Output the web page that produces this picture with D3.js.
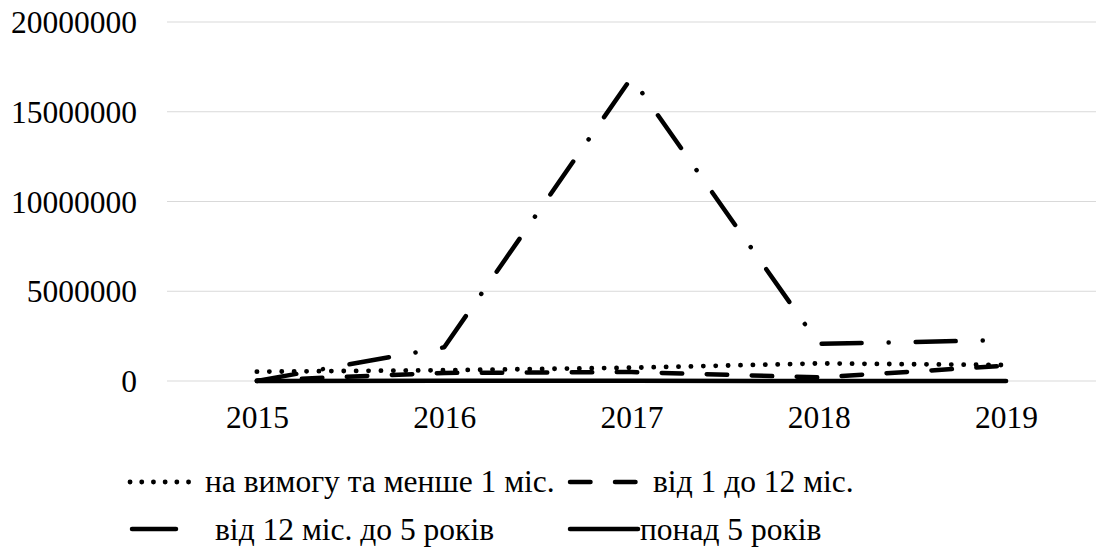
<!DOCTYPE html>
<html>
<head>
<meta charset="utf-8">
<script src="https://cdn.jsdelivr.net/npm/d3@7"></script>
<style>
  html, body { margin: 0; padding: 0; background: #fff; }
  svg { display: block; }
</style>
</head>
<body>
<svg id="chart" width="1096" height="549"></svg>
<script>
// ---- data ----
const years = ["2015", "2016", "2017", "2018", "2019"];
const onDemand = [520000, 600000, 740000, 980000, 890000];        // на вимогу та менше 1 міс.
const m1to12 = [30000, 450000, 500000, 200000, 850000];           // від 1 до 12 міс.
const m12to5y = [0, 1880000, 16900000, 2070000, 2280000];         // від 12 міс. до 5 років
const over5y = [0, 10000, 10000, 5000, 5000];                     // понад 5 років
const yTicks = [0, 5000000, 10000000, 15000000, 20000000];
const seriesNames = ["на вимогу та менше 1 міс.", "від 1 до 12 міс.", "від 12 міс. до 5 років", "понад 5 років"];

const FONT = "'Liberation Serif', serif";
const FS = 31.5;
const styles = [
  { dash: "0.1,12.3", width: 4.8 },
  { dash: "20.5,24.5", width: 4.5 },
  { dash: "40,27,0.1,27", width: 4.5 },
  { dash: null, width: 4.5 }
];
const seriesValues = [onDemand, m1to12, m12to5y, over5y];

const svg = d3.select("#chart");
const x = d3.scalePoint().domain(years).range([167, 1096]).padding(0.48);
const y = d3.scaleLinear().domain([0, 20000000]).range([381, 22]);

// gridlines
svg.append("g").selectAll("line").data(yTicks).join("line")
  .attr("x1", 167).attr("x2", 1096)
  .attr("y1", d => y(d)).attr("y2", d => y(d))
  .attr("stroke", "#d9d9d9").attr("stroke-width", 1);

// y axis labels
const yAxis = d3.axisLeft(y).tickValues(yTicks).tickFormat(d3.format("d")).tickSize(0).tickPadding(0);
const gy = svg.append("g").attr("transform", "translate(137,0)").call(yAxis);
gy.select(".domain").remove();
gy.selectAll("text").style("font-family", FONT).style("font-size", FS + "px").attr("fill", "#000").attr("dy", "0.34em");

// x axis labels
const xAxis = d3.axisBottom(x).tickSize(0).tickPadding(0);
const gx = svg.append("g").attr("transform", "translate(0,406)").call(xAxis);
gx.select(".domain").remove();
gx.selectAll("text").style("font-family", FONT).style("font-size", FS + "px").attr("fill", "#000").attr("dy", "0.71em");

// lines
const line = d3.line().x((d, i) => x(years[i])).y(d => y(d));
seriesValues.forEach((vals, k) => {
  svg.append("path")
    .datum(vals)
    .attr("d", line)
    .attr("fill", "none")
    .attr("stroke", "#000")
    .attr("stroke-width", styles[k].width)
    .attr("stroke-linecap", "round")
    .attr("stroke-linejoin", "round")
    .attr("stroke-dasharray", styles[k].dash);
});

// legend
const legendItems = [
  { i: 0, lx: 130, lw: 68, tx: 205, ly: 482, ty: 492, dash: "0.1,11.6" },
  { i: 1, lx: 570, lw: 68, tx: 653, ly: 482, ty: 492, dash: "20.5,24.5" },
  { i: 2, lx: 132, lw: 44, tx: 215, ly: 529, ty: 540, dash: null },
  { i: 3, lx: 570, lw: 68, tx: 640, ly: 529, ty: 540, dash: null }
];
const lg = svg.append("g");
legendItems.forEach(it => {
  lg.append("line")
    .attr("x1", it.lx).attr("x2", it.lx + it.lw)
    .attr("y1", it.ly).attr("y2", it.ly)
    .attr("stroke", "#000")
    .attr("stroke-width", styles[it.i].width)
    .attr("stroke-linecap", "round")
    .attr("stroke-dasharray", it.dash);
  lg.append("text")
    .attr("x", it.tx).attr("y", it.ty)
    .style("font-family", FONT)
    .style("font-size", FS + "px")
    .attr("fill", "#000")
    .text(seriesNames[it.i]);
});
</script>
</body>
</html>
